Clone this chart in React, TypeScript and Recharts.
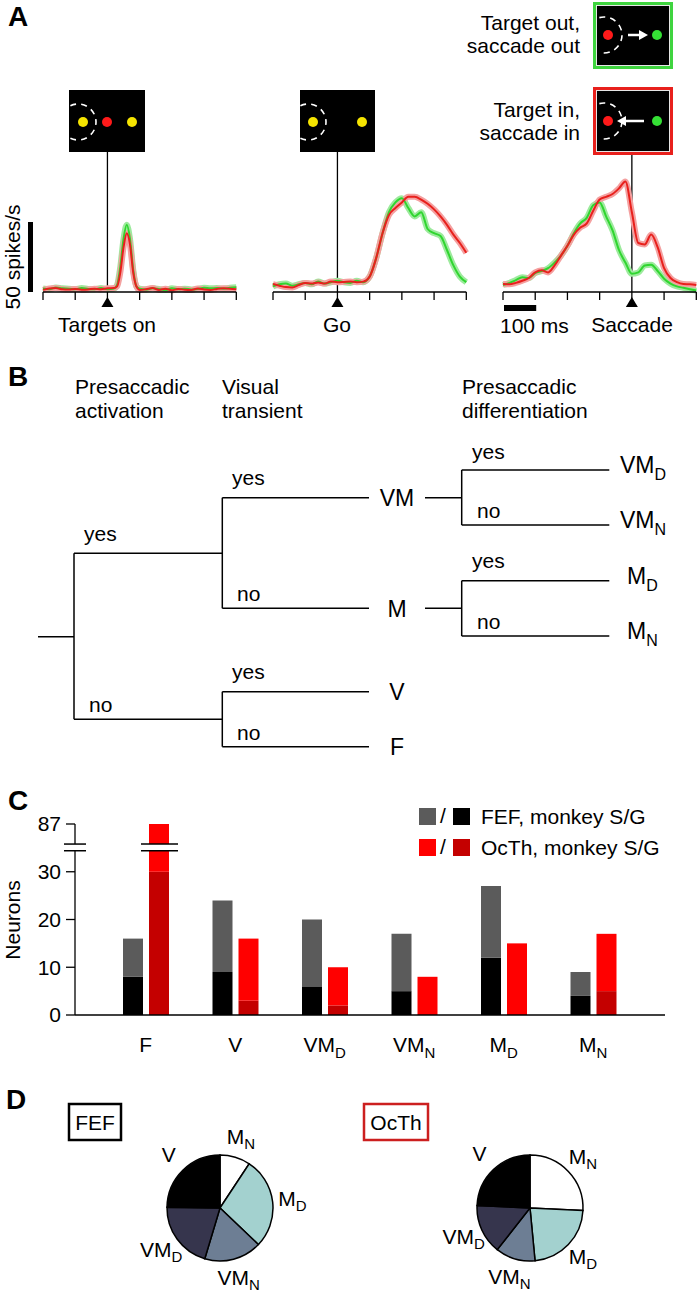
import React from "react";
import {
  Bar,
  BarChart,
  Cell,
  Line,
  LineChart,
  Pie,
  PieChart,
  ReferenceLine,
  XAxis,
  YAxis,
} from "recharts";

const FONT = '"Liberation Sans", Arial, Helvetica, sans-serif';

// ---------- Panel A: mean firing rate (spikes/s); red = target in, green = target out
const targetsOnTime = [-200, -180, -160, -140, -120, -100, -80, -60, -40, -20, 0, 20, 30, 40, 50, 60, 70, 80, 90, 100, 120, 140, 160, 180, 200, 220, 240, 260, 280, 300, 320, 340, 360, 380, 400];
const targetsOnIn = [1.5, 2.5, 2.8, 2.0, 1.8, 2.2, 1.6, 1.8, 2.4, 2.0, 2.6, 2.8, 4, 14, 32, 42, 34, 14, 4, 1.5, 2.0, 2.8, 1.5, 2.4, 1.2, 2.2, 1.6, 1.4, 2.5, 1.8, 1.5, 2.2, 2.6, 2.4, 2.0];
const targetsOnOut = [2.5, 2.0, 3.2, 2.6, 2.4, 2.0, 2.8, 2.2, 2.0, 2.8, 2.0, 2.4, 5, 18, 38, 48, 38, 16, 4, 2.4, 1.8, 2.6, 2.2, 1.4, 2.6, 2.0, 2.4, 1.8, 2.2, 3.0, 2.6, 2.8, 2.4, 3.0, 3.4];

const goTime = [-200, -180, -160, -140, -120, -100, -80, -60, -40, -20, 0, 20, 40, 60, 80, 100, 120, 140, 160, 180, 200, 220, 240, 260, 280, 300, 320, 340, 360, 380, 400];
const goIn = [5.7, 4.5, 3.5, 3.3, 5, 6.4, 6, 6.8, 6, 7.5, 7, 7.2, 7.5, 7, 7.4, 11, 24, 42, 55, 60, 64, 68, 68, 66, 63, 59, 54, 48, 41, 35, 28];
const goOut = [4, 5.5, 6, 4.5, 5.5, 6.5, 5.5, 7.5, 6, 7, 8, 7, 6.5, 8, 7, 11, 24, 42, 57, 64, 67, 60, 54, 57, 45, 42, 40, 30, 19, 11, 7];

const saccadeTime = [-400, -380, -360, -340, -320, -300, -280, -260, -240, -220, -200, -180, -160, -140, -120, -100, -80, -60, -40, -20, 0, 20, 40, 60, 80, 100, 120, 140, 160, 180, 200];
const saccadeIn = [5.7, 5.5, 6.5, 8, 10, 14, 15.5, 14, 19, 26, 33, 41, 46, 49, 58, 66, 68, 70, 74, 79, 57, 35, 34, 41, 32, 17, 10, 7, 5.7, 5.5, 5];
const saccadeOut = [5, 6.5, 8.5, 10.5, 10, 13.5, 15, 17, 21, 26, 33, 42, 49, 53, 62, 64, 54, 44, 30, 21, 13, 14, 19, 19.5, 15, 9.5, 6, 4, 3, 2, 1];

const preTicks = [-200, -100, 0, 100, 200, 300, 400];
const saccadeTicks = [-400, -300, -200, -100, 0, 100, 200];

// ---------- Panel C: neuron counts per class
const classNames = ["F", "V", "VM_D", "VM_N", "M_D", "M_N"];
const fefMonkeyG = [8, 9, 6, 5, 12, 4];
const fefMonkeyS = [8, 15, 14, 12, 15, 5];
const octhMonkeyG = [30, 3, 2, 0, 0, 5];
const octhMonkeyS = [57, 13, 8, 8, 15, 12];
const countTicks = [0, 10, 20, 30, 87];

// ---------- Panel D: class proportions (clockwise from 12 o'clock)
const pieClasses = ["M_N", "M_D", "VM_N", "VM_D", "V"];
const pieColors: Record<string, string> = {
  M_N: "#ffffff",
  M_D: "#a3d1cf",
  VM_N: "#6d7e94",
  VM_D: "#36354d",
  V: "#000000",
};

const RED = "#e8201c";
const GREEN = "#2fd62f";
const RED_BAND = "#f4a0a0";
const GREEN_BAND = "#9dea9d";

// panel A geometry
const A_TOP = 152;
const A_PLOT_H = 140;
const A_PLOT_W = 193.3;

// panel C geometry (broken axis: values above BREAK_LIMIT are drawn at TOP_POS)
const C_TOP = 800;
const C_MARGIN_TOP = 24;
const C_PLOT_H = 191;
const TOP_POS = 40;
const BREAK_LIMIT = 35;
const BREAK_HI = 35.8;
const BREAK_LO = 34.4;
const C_UNIT = C_PLOT_H / TOP_POS;
const cY = (v: number) => C_MARGIN_TOP + (TOP_POS - v) * C_UNIT;

// panel D geometry
const PIE_CY = 1203;

function EventTick(props: any) {
  const { x, y, payload } = props;
  if (payload.value !== 0) return <g />;
  return <polygon points={`${x},${y - 3} ${x - 6},${y + 7} ${x + 6},${y + 7}`} fill="#000" />;
}

function TracePanel({ left, time, rIn, rOut, ticks }: any) {
  const data = time.map((t: number, i: number) => ({ t, in: rIn[i], out: rOut[i] }));
  const common = { dot: false, activeDot: false, isAnimationActive: false, type: "monotone" as const };
  return (
    <div style={{ position: "absolute", left: left - 3, top: A_TOP }}>
      <LineChart width={A_PLOT_W + 6} height={A_PLOT_H + 20} data={data} margin={{ top: 0, right: 3, bottom: 0, left: 3 }}>
        <XAxis
          dataKey="t"
          type="number"
          domain={[ticks[0], ticks[ticks.length - 1]]}
          ticks={ticks}
          interval={0}
          height={20}
          tickSize={8}
          tickMargin={0}
          tick={(p: any) => <EventTick {...p} />}
          axisLine={{ stroke: "#000", strokeWidth: 1.3 }}
          tickLine={{ stroke: "#000", strokeWidth: 1.3 }}
        />
        <YAxis hide domain={[0, 100]} />
        <ReferenceLine x={0} stroke="#000" strokeWidth={1.3} />
        <Line dataKey="out" stroke={GREEN_BAND} strokeWidth={6} {...common} />
        <Line dataKey="in" stroke={RED_BAND} strokeWidth={6} {...common} />
        <Line dataKey="out" stroke={GREEN} strokeWidth={2} {...common} />
        <Line dataKey="in" stroke={RED} strokeWidth={2} {...common} />
      </LineChart>
    </div>
  );
}

function ClassTick(props: any) {
  const { x, y, payload } = props;
  const [main, sub] = String(payload.value).split("_");
  return (
    <text x={x} y={y + 37} textAnchor="middle" fontSize={21} fontFamily={FONT} fill="#000">
      <tspan>{main}</tspan>
      {sub ? <tspan dy={6} fontSize={15}>{sub}</tspan> : null}
    </text>
  );
}

function BrokenBar(props: any) {
  const { x, y, width, height, fill, payload } = props;
  return (
    <g>
      <rect x={x} y={y} width={width} height={height} fill={fill} />
      {payload && payload.broken ? (
        <g>
          <rect x={x - 8} y={cY(BREAK_HI)} width={width + 16} height={cY(BREAK_LO) - cY(BREAK_HI)} fill="#fff" />
          <line x1={x - 8} x2={x + width + 9} y1={cY(BREAK_HI)} y2={cY(BREAK_HI)} stroke="#000" strokeWidth={1.5} />
          <line x1={x - 8} x2={x + width + 9} y1={cY(BREAK_LO)} y2={cY(BREAK_LO)} stroke="#000" strokeWidth={1.5} />
        </g>
      ) : null}
    </g>
  );
}

function pieLabel(props: any) {
  const { cx, cy, midAngle, outerRadius } = props;
  const name = props.name ?? props.payload?.name;
  const r = outerRadius + 20;
  const a = (-midAngle * Math.PI) / 180;
  const x = cx + r * Math.cos(a);
  const y = cy + r * Math.sin(a);
  const [main, sub] = String(name).split("_");
  return (
    <text x={x} y={y + 6} textAnchor="middle" fontSize={21} fontFamily={FONT} fill="#000">
      <tspan>{main}</tspan>
      {sub ? <tspan dy={5} fontSize={15}>{sub}</tspan> : null}
    </text>
  );
}

function ClassPie({ left, counts }: any) {
  const rows = pieClasses.map((name) => ({ name, value: counts[classNames.indexOf(name)] }));
  return (
    <div style={{ position: "absolute", left: left - 110, top: PIE_CY - 90 }}>
      <PieChart width={220} height={180}>
        <Pie
          data={rows}
          dataKey="value"
          nameKey="name"
          cx={110}
          cy={90}
          outerRadius={53}
          startAngle={90}
          endAngle={-270}
          stroke="#000"
          strokeWidth={1.5}
          label={pieLabel}
          labelLine={false}
          isAnimationActive={false}
        >
          {rows.map((r) => (
            <Cell key={r.name} fill={pieColors[r.name]} />
          ))}
        </Pie>
      </PieChart>
    </div>
  );
}

function Sub({ x, y, main, sub, size = 23, anchor = "start" }: any) {
  return (
    <text x={x} y={y} fontSize={size} textAnchor={anchor} fill="#000">
      <tspan>{main}</tspan>
      {sub ? <tspan dy={7} fontSize={16}>{sub}</tspan> : null}
    </text>
  );
}

// tree segments of panel B: [x1, y1, x2, y2]
const treeLines = [
  [38, 636.7, 74, 636.7],
  [74, 553.3, 74, 719.3],
  [74, 553.3, 222.3, 553.3],
  [74, 719.3, 222.3, 719.3],
  [222.3, 497.7, 222.3, 608.3],
  [222.3, 497.7, 369, 497.7],
  [222.3, 608.3, 369, 608.3],
  [222.3, 691.7, 222.3, 746.7],
  [222.3, 691.7, 369, 691.7],
  [222.3, 746.7, 369, 746.7],
  [425, 497.7, 461.7, 497.7],
  [461.7, 470, 461.7, 525],
  [461.7, 470, 609.3, 470],
  [461.7, 525, 609.3, 525],
  [425, 608.3, 461.7, 608.3],
  [461.7, 580.7, 461.7, 636],
  [461.7, 580.7, 609.3, 580.7],
  [461.7, 636, 609.3, 636],
];

function Inset({ x, y, w, h, border }: any) {
  return (
    <g>
      {border ? <rect x={x} y={y} width={w} height={h} fill={border} /> : null}
      {border ? <rect x={x + 3} y={y + 3} width={w - 6} height={h - 6} fill="#e6e6e6" /> : null}
      <rect x={border ? x + 4 : x} y={border ? y + 4 : y} width={border ? w - 8 : w} height={border ? h - 8 : h} fill="#000" />
    </g>
  );
}

function RfArc({ cx, cy, r, half }: any) {
  const a = (half * Math.PI) / 180;
  const sx = cx + r * Math.cos(a);
  const sy1 = cy - r * Math.sin(a);
  const sy2 = cy + r * Math.sin(a);
  return (
    <path
      d={`M ${sx} ${sy1} A ${r} ${r} 0 1 1 ${sx} ${sy2}`}
      fill="none"
      stroke="#fff"
      strokeWidth={1.6}
      strokeDasharray="6 5"
    />
  );
}

export default function App() {
  const classRows = classNames.map((name, i) => {
    const octhTotal = octhMonkeyG[i] + octhMonkeyS[i];
    const shownTotal = octhTotal > BREAK_LIMIT ? TOP_POS : octhTotal;
    return {
      name,
      fefG: fefMonkeyG[i],
      fefS: fefMonkeyS[i],
      octhG: octhMonkeyG[i],
      octhS: shownTotal - octhMonkeyG[i],
      broken: octhTotal > BREAK_LIMIT,
    };
  });
  const fefCounts = classNames.map((_, i) => fefMonkeyG[i] + fefMonkeyS[i]);
  const octhCounts = classNames.map((_, i) => octhMonkeyG[i] + octhMonkeyS[i]);
  const yTickPos = countTicks.map((v) => (v > BREAK_LIMIT ? TOP_POS : v));

  const txt = { fontSize: 21, fill: "#000" };

  return (
    <div
      style={{
        position: "absolute",
        left: 0,
        top: 0,
        width: 698,
        height: 1293,
        background: "#fff",
        overflow: "hidden",
        fontFamily: FONT,
      }}
    >
      <TracePanel left={42.7} time={targetsOnTime} rIn={targetsOnIn} rOut={targetsOnOut} ticks={preTicks} />
      <TracePanel left={273} time={goTime} rIn={goIn} rOut={goOut} ticks={preTicks} />
      <TracePanel left={503.3} time={saccadeTime} rIn={saccadeIn} rOut={saccadeOut} ticks={saccadeTicks} />

      <div style={{ position: "absolute", left: 0, top: C_TOP }}>
        <BarChart
          width={698}
          height={C_MARGIN_TOP + C_PLOT_H + 45}
          data={classRows}
          margin={{ top: C_MARGIN_TOP, right: 33, bottom: 0, left: 0 }}
          barSize={20}
          barGap={6}
        >
          <XAxis
            dataKey="name"
            interval={0}
            height={45}
            tickLine={false}
            tickSize={0}
            tickMargin={0}
            tick={(p: any) => <ClassTick {...p} />}
            axisLine={{ stroke: "#000", strokeWidth: 1.3 }}
            padding={{ left: 26, right: 27 }}
          />
          <YAxis
            width={75}
            domain={[0, TOP_POS]}
            ticks={yTickPos}
            interval={0}
            tickFormatter={(v: number) => String(countTicks[yTickPos.indexOf(v)])}
            tickSize={9}
            tickMargin={5}
            tick={{ fill: "#000", fontSize: 21, fontFamily: FONT }}
            axisLine={{ stroke: "#000", strokeWidth: 1.3 }}
            tickLine={{ stroke: "#000", strokeWidth: 1.3 }}
          />
          <Bar dataKey="fefG" stackId="fef" fill="#000000" isAnimationActive={false} />
          <Bar dataKey="fefS" stackId="fef" fill="#5b5b5b" isAnimationActive={false} />
          <Bar dataKey="octhG" stackId="octh" fill="#c40000" isAnimationActive={false} />
          <Bar dataKey="octhS" stackId="octh" fill="#ff0000" isAnimationActive={false} shape={(p: any) => <BrokenBar {...p} />} />
        </BarChart>
      </div>

      <ClassPie left={215} counts={fefCounts} />
      <ClassPie left={525} counts={octhCounts} />

      <svg
        width={698}
        height={1293}
        style={{ position: "absolute", left: 0, top: 0, pointerEvents: "none" }}
        fontFamily={FONT}
      >
        {/* panel letters */}
        <text x={8} y={26} fontSize={28} fontWeight="bold">A</text>
        <text x={8} y={386} fontSize={28} fontWeight="bold">B</text>
        <text x={8} y={810} fontSize={28} fontWeight="bold">C</text>
        <text x={6} y={1109} fontSize={28} fontWeight="bold">D</text>

        {/* panel A insets */}
        <Inset x={69} y={90} w={76} h={62} />
        <RfArc cx={78} cy={122} r={18} half={115} />
        <circle cx={83} cy={122} r={5} fill="#f5e400" />
        <circle cx={107} cy={122} r={5} fill="#ff1a1a" />
        <circle cx={132} cy={122} r={5} fill="#f5e400" />

        <Inset x={300} y={90} w={75} h={62} />
        <RfArc cx={308} cy={122} r={18} half={115} />
        <circle cx={313} cy={122} r={5} fill="#f5e400" />
        <circle cx={362} cy={122} r={5} fill="#f5e400" />

        <Inset x={593} y={2} w={80} h={67} border="#3fd43f" />
        <RfArc cx={604} cy={35} r={18} half={105} />
        <circle cx={608} cy={35} r={5} fill="#ff1a1a" />
        <line x1={628} y1={35} x2={641} y2={35} stroke="#fff" strokeWidth={2.5} />
        <polygon points="648,35 639,30 639,40" fill="#fff" />
        <circle cx={657} cy={35} r={5} fill="#35e035" />

        <Inset x={593} y={87} w={80} h={68} border="#e8201c" />
        <RfArc cx={604} cy={121} r={18} half={105} />
        <circle cx={608} cy={121} r={5} fill="#ff1a1a" />
        <line x1={644} y1={121} x2={624} y2={121} stroke="#fff" strokeWidth={2.5} />
        <polygon points="617,121 626,116 626,126" fill="#fff" />
        <circle cx={657} cy={121} r={5} fill="#35e035" />

        <text x={580} y={30} textAnchor="end" {...txt}>Target out,</text>
        <text x={580} y={53} textAnchor="end" {...txt}>saccade out</text>
        <text x={580} y={117} textAnchor="end" {...txt}>Target in,</text>
        <text x={580} y={140} textAnchor="end" {...txt}>saccade in</text>

        {/* scale bars */}
        <rect x={28} y={A_TOP + A_PLOT_H - (50 * A_PLOT_H) / 100} width={5} height={(50 * A_PLOT_H) / 100} fill="#000" />
        <text x={20} y={257} textAnchor="middle" transform="rotate(-90 20 257)" {...txt}>50 spikes/s</text>
        <rect x={504} y={305} width={(100 * A_PLOT_W) / 600} height={6} fill="#000" />
        <text x={500} y={333} {...txt}>100 ms</text>
        <text x={107} y={332} textAnchor="middle" {...txt}>Targets on</text>
        <text x={337} y={332} textAnchor="middle" {...txt}>Go</text>
        <text x={632} y={332} textAnchor="middle" {...txt}>Saccade</text>

        {/* panel B tree */}
        <text x={75} y={394} {...txt}>Presaccadic</text>
        <text x={75} y={418} {...txt}>activation</text>
        <text x={222} y={394} {...txt}>Visual</text>
        <text x={222} y={418} {...txt}>transient</text>
        <text x={462} y={394} {...txt}>Presaccadic</text>
        <text x={462} y={418} {...txt}>differentiation</text>
        {treeLines.map(([x1, y1, x2, y2], i) => (
          <line key={i} x1={x1} y1={y1} x2={x2} y2={y2} stroke="#000" strokeWidth={1.5} />
        ))}
        <text x={84} y={541} {...txt}>yes</text>
        <text x={89} y={712} {...txt}>no</text>
        <text x={232} y={485} {...txt}>yes</text>
        <text x={237} y={601} {...txt}>no</text>
        <text x={232} y={679} {...txt}>yes</text>
        <text x={237} y={740} {...txt}>no</text>
        <text x={472} y={459} {...txt}>yes</text>
        <text x={477} y={518} {...txt}>no</text>
        <text x={472} y={568} {...txt}>yes</text>
        <text x={477} y={629} {...txt}>no</text>
        <Sub x={397} y={506} main="VM" anchor="middle" />
        <Sub x={397} y={617} main="M" anchor="middle" />
        <Sub x={397} y={700} main="V" anchor="middle" />
        <Sub x={397} y={755} main="F" anchor="middle" />
        <Sub x={620} y={473} main="VM" sub="D" />
        <Sub x={620} y={528} main="VM" sub="N" />
        <Sub x={627} y={584} main="M" sub="D" />
        <Sub x={627} y={639} main="M" sub="N" />

        {/* panel C extras */}
        <text x={20} y={920} textAnchor="middle" transform="rotate(-90 20 920)" {...txt}>Neurons</text>
        <rect x={68} y={C_TOP + cY(BREAK_HI)} width={14} height={cY(BREAK_LO) - cY(BREAK_HI)} fill="#fff" />
        <line x1={64} x2={86} y1={C_TOP + cY(BREAK_HI)} y2={C_TOP + cY(BREAK_HI)} stroke="#000" strokeWidth={1.5} />
        <line x1={64} x2={86} y1={C_TOP + cY(BREAK_LO)} y2={C_TOP + cY(BREAK_LO)} stroke="#000" strokeWidth={1.5} />

        <rect x={419} y={808} width={17} height={17} fill="#5b5b5b" />
        <text x={440} y={823} {...txt}>/</text>
        <rect x={453} y={808} width={17} height={17} fill="#000" />
        <text x={481} y={824} {...txt}>FEF, monkey S/G</text>
        <rect x={419} y={839} width={17} height={17} fill="#ff0000" />
        <text x={440} y={854} {...txt}>/</text>
        <rect x={453} y={839} width={17} height={17} fill="#c40000" />
        <text x={481} y={855} {...txt}>OcTh, monkey S/G</text>

        {/* panel D boxes */}
        <rect x={69} y={1104} width={52} height={36} fill="none" stroke="#000" strokeWidth={2.5} />
        <text x={95} y={1130} textAnchor="middle" {...txt}>FEF</text>
        <rect x={364} y={1104} width={64} height={36} fill="none" stroke="#cc1f1f" strokeWidth={2.5} />
        <text x={396} y={1130} textAnchor="middle" {...txt}>OcTh</text>
      </svg>
    </div>
  );
}
